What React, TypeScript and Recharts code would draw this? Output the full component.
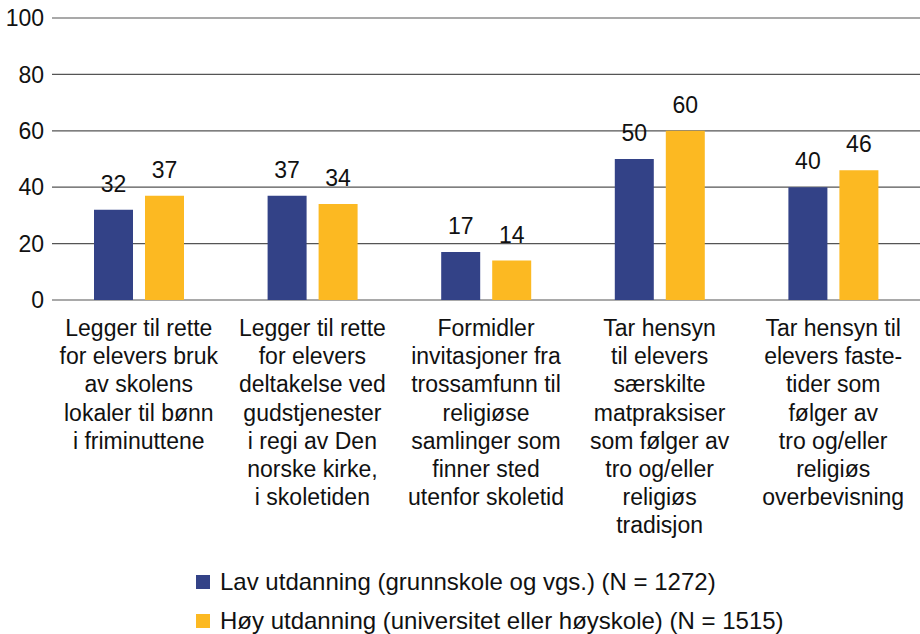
import React from "react";
import {
  BarChart,
  Bar,
  XAxis,
  YAxis,
  CartesianGrid,
  LabelList,
} from "recharts";

// Category labels, already broken into lines as in the source figure
const categoryLines: string[][] = [
  ["Legger til rette", "for elevers bruk", "av skolens", "lokaler til bønn", "i friminuttene"],
  ["Legger til rette", "for elevers", "deltakelse ved", "gudstjenester", "i regi av Den", "norske kirke,", "i skoletiden"],
  ["Formidler", "invitasjoner fra", "trossamfunn til", "religiøse", "samlinger som", "finner sted", "utenfor skoletid"],
  ["Tar hensyn", "til elevers", "særskilte", "matpraksiser", "som følger av", "tro og/eller", "religiøs", "tradisjon"],
  ["Tar hensyn til", "elevers faste-", "tider som", "følger av", "tro og/eller", "religiøs", "overbevisning"],
];

const lavValues = [32, 37, 17, 50, 40];
const hoyValues = [37, 34, 14, 60, 46];

const yTicks = [0, 20, 40, 60, 80, 100];

const seriesNames = [
  "Lav utdanning (grunnskole og vgs.) (N = 1272)",
  "Høy utdanning (universitet eller høyskole) (N = 1515)",
];
const seriesColors = ["#334287", "#fcb922"];

const FONT = "'Liberation Sans', Arial, sans-serif";

const data = categoryLines.map((lines, i) => ({
  key: String(i),
  lav: lavValues[i],
  hoy: hoyValues[i],
}));

const CategoryTick = (props: any) => {
  const { x, payload } = props;
  const lines = categoryLines[Number(payload.value)] || [];
  return (
    <text
      x={x}
      y={336}
      textAnchor="middle"
      fill="#111"
      fontSize={23}
      fontFamily={FONT}
    >
      {lines.map((line, i) => (
        <tspan key={i} x={x} dy={i === 0 ? 0 : 28.2}>
          {line}
        </tspan>
      ))}
    </text>
  );
};

export default function App() {
  return (
    <div
      style={{
        position: "absolute",
        left: 0,
        top: 0,
        width: 920,
        height: 634,
        background: "#fff",
        fontFamily: FONT,
      }}
    >
      <BarChart
        width={920}
        height={634}
        data={data}
        margin={{ top: 18, right: 0, bottom: 0, left: 0 }}
        barGap={12}
      >
        <CartesianGrid vertical={false} stroke="#555" strokeWidth={1.2} />
        <XAxis
          dataKey="key"
          height={334}
          axisLine={false}
          tickLine={false}
          interval={0}
          tick={<CategoryTick />}
        />
        <YAxis
          width={52}
          domain={[0, 100]}
          ticks={yTicks}
          axisLine={false}
          tickLine={false}
          tickSize={0}
          tickMargin={8}
          tick={{ fill: "#111", fontSize: 23, fontFamily: FONT }}
        />
        <Bar dataKey="lav" fill={seriesColors[0]} barSize={39} isAnimationActive={false}>
          <LabelList
            dataKey="lav"
            position="top"
            offset={18}
            fill="#111"
            fontSize={23}
            fontFamily={FONT}
          />
        </Bar>
        <Bar dataKey="hoy" fill={seriesColors[1]} barSize={39} isAnimationActive={false}>
          <LabelList
            dataKey="hoy"
            position="top"
            offset={18}
            fill="#111"
            fontSize={23}
            fontFamily={FONT}
          />
        </Bar>
      </BarChart>
      <div style={{ position: "absolute", left: 196, top: 562 }}>
        {seriesNames.map((name, i) => (
          <div
            key={name}
            style={{
              display: "flex",
              alignItems: "center",
              height: 39,
              fontSize: 24,
              lineHeight: "28px",
              color: "#111",
              whiteSpace: "nowrap",
            }}
          >
            <span
              style={{
                display: "inline-block",
                width: 14,
                height: 14,
                background: seriesColors[i],
                marginRight: 10,
              }}
            />
            {name}
          </div>
        ))}
      </div>
    </div>
  );
}
